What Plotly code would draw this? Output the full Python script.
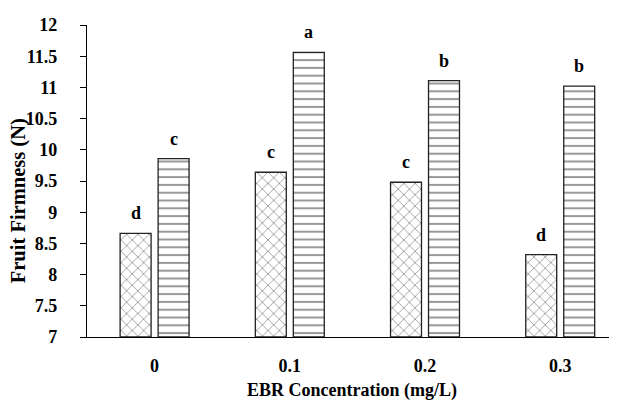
import plotly.graph_objects as go

categories = ["0", "0.1", "0.2", "0.3"]
series_a = [8.66, 9.64, 9.48, 8.32]      # wavy pattern bars
series_b = [9.86, 11.56, 11.11, 11.02]   # horizontal-stripe bars
letters_a = ["d", "c", "c", "d"]
letters_b = ["c", "a", "b", "b"]
y_ticks = [7, 7.5, 8, 8.5, 9, 9.5, 10, 10.5, 11, 11.5, 12]

xpos = list(range(len(categories)))
BARGAP = 0.438
GROUPGAP = 0.185
half_slot = (1 - BARGAP) / 4

font_family = "Liberation Serif, Times New Roman, serif"

fig = go.Figure()
fig.add_trace(go.Bar(
    x=xpos, y=[v - 7 for v in series_a], base=7,
    marker=dict(color="white", line=dict(color="#222", width=1.3),
                pattern=dict(shape="x", fgcolor="#444", bgcolor="white",
                             size=8, solidity=0.22)),
    showlegend=False, hoverinfo="skip",
))
fig.add_trace(go.Bar(
    x=xpos, y=[v - 7 for v in series_b], base=7,
    marker=dict(color="white", line=dict(color="#222", width=1.3),
                pattern=dict(shape="-", fgcolor="#333", bgcolor="white",
                             size=7.8, solidity=0.26)),
    showlegend=False, hoverinfo="skip",
))

bold18 = dict(family=font_family, size=18, color="black", weight="bold")

for i in xpos:
    fig.add_annotation(x=i - half_slot, y=series_a[i], text=letters_a[i],
                       showarrow=False, yanchor="bottom", yshift=8, font=bold18)
    fig.add_annotation(x=i + half_slot, y=series_b[i], text=letters_b[i],
                       showarrow=False, yanchor="bottom", yshift=8, font=bold18)

# y-axis title, centred on the figure height like the reference
fig.add_annotation(xref="paper", yref="paper", x=0, y=0.435,
                   xanchor="center", yanchor="middle", xshift=-69,
                   text="Fruit Firmness (N)", textangle=-90, showarrow=False,
                   font=dict(family=font_family, size=20.5, color="black", weight="bold"))

# page body has an 8px margin, so the figure is sized/offset to compensate
fig.update_layout(
    width=609, height=393,
    margin=dict(l=79, r=0, t=17, b=64),
    paper_bgcolor="white", plot_bgcolor="white",
    barmode="group", bargap=BARGAP, bargroupgap=GROUPGAP,
    font=dict(family=font_family, color="black"),
    xaxis=dict(
        range=[-0.5, 3.42], tickmode="array", tickvals=xpos, ticktext=categories,
        showline=True, linecolor="black", linewidth=1.3, ticks="",
        showgrid=False, zeroline=False, automargin=False,
        tickfont=bold18,
        ticklabelstandoff=12,
        title=dict(text="EBR Concentration (mg/L)", standoff=8,
                   font=dict(family=font_family, size=18, color="black", weight="bold")),
    ),
    yaxis=dict(
        range=[7, 12], tickmode="array", tickvals=y_ticks,
        ticktext=[f"{t:g}" for t in y_ticks],
        showline=True, linecolor="black", linewidth=1.3,
        ticks="outside", ticklen=6, tickcolor="black", tickwidth=1.3,
        showgrid=False, zeroline=False, automargin=False,
        tickfont=bold18,
        ticklabelstandoff=19,
    ),
)

fig.write_html("out.html")
